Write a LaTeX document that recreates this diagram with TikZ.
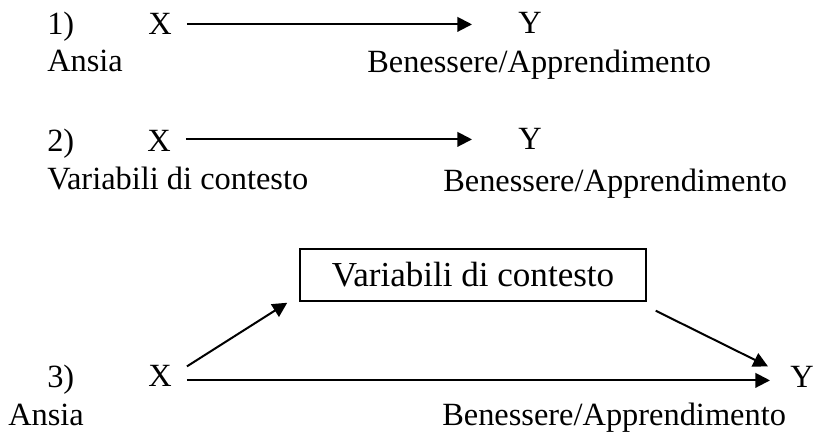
\documentclass[tikz,border=0pt]{standalone}
\usepackage{fontspec}
\setmainfont{Liberation Serif}
\usetikzlibrary{arrows.meta,calc}
\begin{document}
\begin{tikzpicture}[x=0.75pt,y=-0.75pt,
  lbl/.style={anchor=base west,inner sep=0pt,font=\fontsize{24.3}{28}\selectfont},
  arr/.style={line width=1.5pt,-{Triangle[length=11pt,width=11pt]}},
  ctxbox/.style={draw,line width=1.1pt,inner sep=0pt,minimum width=259.5pt,minimum height=39pt,
    font=\fontsize{26.3}{30}\selectfont}]
\useasboundingbox (0,0) rectangle (814,434);

% model 1
\node[lbl] (n1) at (47,35) {1)};
\node[lbl] (x1) at (148,35) {X};
\node[lbl] (y1) at (518,34) {Y};
\node[lbl] (a1) at (47,72) {Ansia};
\node[lbl] (b1) at (367,73) {Benessere/Apprendimento};
\draw[arr] ($(x1.east)+(15,0)$) -- ($(x1.east -| y1.west)+(-46,0)$);

% model 2
\node[lbl] (n2) at (47,152) {2)};
\node[lbl] (x2) at (147,152) {X};
\node[lbl] (y2) at (518,150) {Y};
\node[lbl] (v2) at (47,190) {Variabili di contesto};
\node[lbl] (b2) at (443,192) {Benessere/Apprendimento};
\draw[arr] ($(y2.west -| x2.east)+(15,0)$) -- ($(y2.west)+(-46,0)$);

% model 3: mediation through the context variables
\node[ctxbox] (ctx) at (473,275) {Variabili di contesto};
\node[lbl] (n3) at (47,388) {3)};
\node[lbl] (x3) at (148,387) {X};
\node[lbl] (y3) at (790,388) {Y};
\node[lbl] (a3) at (8,426) {Ansia};
\node[lbl] (b3) at (442,426) {Benessere/Apprendimento};
\draw[arr] ($(x3.east)+(15,4)$) -- ($(x3.east -| y3.west)+(-20,4)$);
\draw[arr] ($(x3.east)+(15,-10)$) -- ($(ctx.south west)+(-12,1)$);
\draw[arr] ($(ctx.south east)+(9,9)$) -- ($(y3.west)+(-22,-11)$);
\end{tikzpicture}
\end{document}
